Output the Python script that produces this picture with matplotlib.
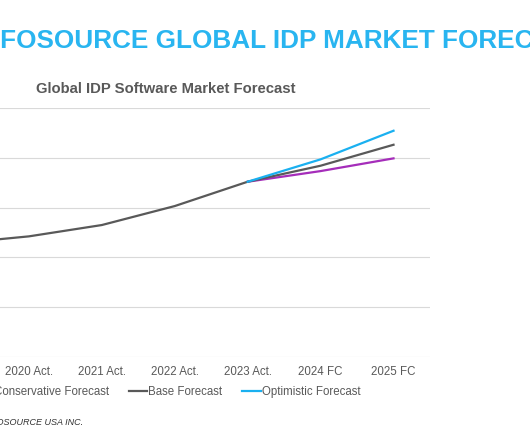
import numpy as np
import matplotlib.pyplot as plt

plt.rcParams['font.family'] = ['Liberation Sans', 'DejaVu Sans']

# category labels and series (arbitrary units)
years = ['2019 Act.', '2020 Act.', '2021 Act.', '2022 Act.', '2023 Act.', '2024 FC', '2025 FC']
base = [1140, 1211, 1325, 1516, 1761, 1922, 2133]
conservative = [np.nan, np.nan, np.nan, np.nan, 1761, 1868, 1996]
optimistic = [np.nan, np.nan, np.nan, np.nan, 1761, 1986, 2274]

x = np.arange(len(years))

fig = plt.figure(figsize=(5.3, 4.42), dpi=100)
# plot area runs off the left edge of the picture (cropped screenshot)
ax = fig.add_axes([-0.1519, 0.193, 0.9632, 0.562])

ax.plot(x, conservative, color='#A52DBA', lw=1.6, label='Conservative Forecast', zorder=3)
ax.plot(x, base, color='#595959', lw=1.6, label='Base Forecast', zorder=3)
ax.plot(x, optimistic, color='#1AB0F0', lw=1.6, label='Optimistic Forecast', zorder=4)

ax.set_xlim(-0.5, len(years) - 0.5)
ax.set_ylim(0, 2500)
ax.set_yticks(np.arange(0, 2501, 500))
ax.set_xticks(x)
ax.set_xticklabels(years, fontsize=8.3, color='#595959')
ax.tick_params(axis='x', length=0, pad=7)
ax.tick_params(axis='y', length=0, labelleft=False)
ax.grid(axis='y', color='#D9D9D9', lw=0.8)
ax.set_axisbelow(True)
for s in ax.spines.values():
    s.set_visible(False)

# big banner title, its first letters are cut off by the left edge
r = fig.canvas.get_renderer()
probe = fig.text(0, 0, 'IN', fontsize=18.8, fontweight='bold')
w_in = probe.get_window_extent(r).width / fig.bbox.width
probe.remove()
fig.text(-w_in, 0.908, 'INFOSOURCE GLOBAL IDP MARKET FORECAST', fontsize=18.8,
         fontweight='bold', color='#29B5F0', ha='left', va='center')
fig.text(0.3123, 0.7986, 'Global IDP Software Market Forecast', fontsize=10.7,
         fontweight='bold', color='#595959', ha='center', va='center')
fig.text(0.1566, 0.0437, 'INFOSOURCE USA INC.', fontsize=6.5, style='italic',
         color='#333333', ha='right', va='center')

fig.legend(loc='center', bbox_to_anchor=(0.316, 0.1125), ncol=3, frameon=False,
           fontsize=8.3, labelcolor='#595959', handlelength=1.6, handletextpad=0.1,
           columnspacing=1.7)

fig.savefig('out.png', dpi=100)
